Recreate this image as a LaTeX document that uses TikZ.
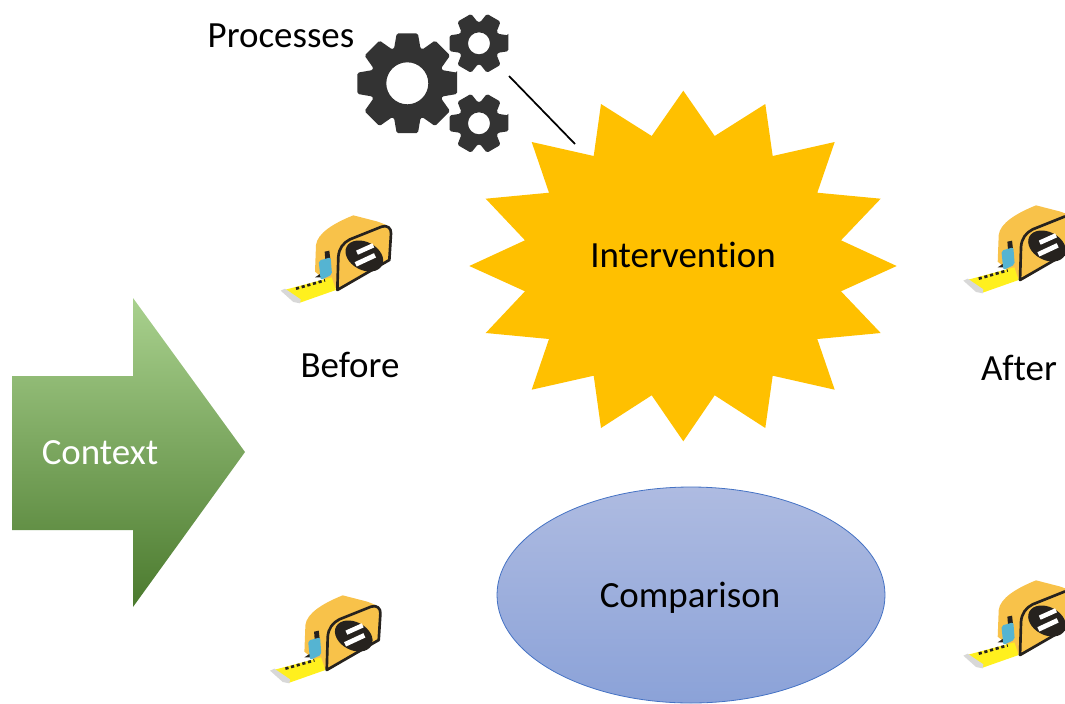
\documentclass[tikz,border=0pt]{standalone}
\usepackage{fontspec}
\setmainfont[Ligatures=NoCommon]{Carlito}
\usetikzlibrary{shapes.geometric}
\definecolor{ffcqq}{HTML}{FFC000}
\definecolor{gearcol}{HTML}{333333}
\definecolor{tapebody}{HTML}{F8C24A}
\definecolor{tapeblue}{HTML}{55B4D2}
\definecolor{tapeyel}{HTML}{FFF01E}
\definecolor{tapegrey}{HTML}{D8D8D8}
\definecolor{tapedark}{HTML}{26221E}
\definecolor{greentop}{HTML}{A9D18E}
\definecolor{greenmid}{HTML}{70AD47}
\definecolor{greenbot}{HTML}{4B7A2E}
\definecolor{bluetop}{HTML}{AEBBE1}
\definecolor{bluebot}{HTML}{8BA2D8}
\definecolor{blueline}{HTML}{4472C4}
\tikzset{
	label text/.style={font=\fontsize{27.7}{33}\selectfont,inner sep=0pt},
	comparison/.style={ellipse,draw=blueline,line width=0.6pt,top color=bluetop,bottom color=bluebot,minimum width=291pt,minimum height=162pt,inner sep=0pt},
}
% x y teeth tip root hole tipangle rootangle
\newcommand{\gearwheel}[8]{
	\fill[gearcol,even odd rule,rounded corners=1.2pt] ([shift={(#1,#2)}]-#7:#4)
		\foreach \a [evaluate=\a as \pa using (\a-1)*360/#3+#7,
			evaluate=\a as \pb using (\a-1)*360/#3+#8,
			evaluate=\a as \pc using \a*360/#3-#8,
			evaluate=\a as \pd using \a*360/#3-#7] in {1,...,#3} {
			-- ([shift={(#1,#2)}]\pa:#4)
			-- ([shift={(#1,#2)}]\pb:#5)
			-- ([shift={(#1,#2)}]\pc:#5)
			-- ([shift={(#1,#2)}]\pd:#4)
		} -- cycle
		(#1,#2) circle (#6);
}
\newcommand{\tapemeasure}[2]{
	\begin{scope}[shift={(#1,#2)},x=0.25pt,y=-0.25pt,line cap=butt]
		\fill[tapebody] (165,215) -- (168,135) .. controls (172,100) and (220,70) .. (280,46) -- (350,64) .. controls (375,72) and (392,80) .. (394,95) -- (388,180) -- (235,272) -- cycle;
		\fill[tapeyel] (65,272) -- (215,232) -- (228,270) -- (120,308) -- cycle;
		\fill[tapegrey] (62,272) -- (75,266) -- (122,298) -- (120,310) -- (100,306) -- cycle;
		\draw[tapedark,line width=2pt,dash pattern=on 2.4pt off 2pt] (108,266) -- (195,241);
		\fill[tapedark] (165,232) -- (180,222) -- (190,232) -- cycle;
		\fill[tapedark] (194,155) -- (208,152) -- (211,178) -- (196,180) -- cycle;
		\fill[tapeblue,rounded corners=1.5pt] (176,182) -- (212,172) -- (216,224) -- (182,240) -- cycle;
		\draw[tapedark,line width=2pt,fill=tapebody] (232,270) -- (235,170) .. controls (237,145) and (250,128) .. (270,118) -- (365,80) .. controls (382,74) and (394,85) .. (393,100) -- (388,180) -- cycle;
		\fill[tapedark] (313,168) circle[x radius=60,y radius=42,rotate=-28];
		\draw[white,line width=3.4pt] (291,158) -- (340,136);
		\draw[white,line width=3.6pt] (287,193) -- (345,166);
	\end{scope}
}
\begin{document}
\begin{tikzpicture}[line cap=round,line join=round,x=0.75pt,y=-0.75pt]
	\clip (0,0) rectangle (1065,704);
	\useasboundingbox (0,0) rectangle (1065,704);
	% context arrow
	\shade[top color=greentop,middle color=greenmid,bottom color=greenbot] (12,376) -- (133,376) -- (133,298) -- (245,452) -- (133,607) -- (133,530) -- (12,530) -- cycle;
	\node[label text,white] (context) at (100,453) {Context};
	% star
	\fill[ffcqq] (683.3,90.7) -- (714.7,136) -- (765.3,104) -- (772.7,156) -- (834.7,142) -- (817.3,192.7) -- (880.7,198.7) -- (841,240.3) -- (896.7,266) -- (841,291.3) -- (880.7,333) -- (817.3,339) -- (834.7,389.7) -- (772.7,375.7) -- (765.3,428) -- (714.7,395.3) -- (683.3,441.3) -- (651.7,395.3) -- (601,428) -- (593.7,375.7) -- (531.7,389.7) -- (549,339) -- (485.7,333) -- (525,291.3) -- (469.3,266) -- (525,240.3) -- (485.7,198.7) -- (549,192.7) -- (531.7,142) -- (593.7,156) -- (601,104) -- (651.7,136) -- cycle;
	\node[label text] (intervention) at (683,255) {Intervention};
	\node[comparison] (comparisonshape) at (691,595) {};
	\node[label text] (comparison) at (690,598) {Comparison};
	% gears
	\gearwheel{407.3}{83.3}{8}{51}{37}{21}{12}{21}
	\gearwheel{479}{43.3}{6}{30.5}{21}{11}{15}{27}
	\gearwheel{479}{123.3}{6}{30.5}{21}{11}{15}{27}
	\coordinate (gearend) at (509,76);
	\coordinate (starend) at (575,144);
	\draw[line width=1.3pt,line cap=butt] (gearend) -- (starend);
	\node[label text] (processes) at (281,36) {Processes};
	% tapes
	\tapemeasure{260}{200}
	\tapemeasure{249.4}{580}
	\tapemeasure{942.7}{190}
	\tapemeasure{942.7}{565}
	\node[label text] (before) at (350,365) {Before};
	\node[label text] (after) at (1019,368) {After};
\end{tikzpicture}
\end{document}
